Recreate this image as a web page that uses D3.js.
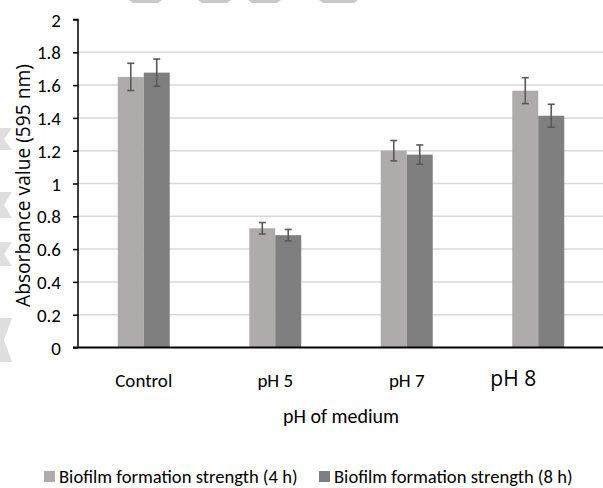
<!DOCTYPE html>
<html>
<head>
<meta charset="utf-8">
<script src="https://cdn.jsdelivr.net/npm/d3@7"></script>
<style>
  html, body { margin: 0; padding: 0; background: #fff; }
  svg { display: block; }
</style>
</head>
<body>
<svg id="chart" width="603" height="488"></svg>
<script>
// ---- data ----
const categories = ["Control", "pH 5", "pH 7", "pH 8"];
const seriesNames = ["Biofilm formation strength (4 h)", "Biofilm formation strength (8 h)"];
const strength4h = [1.65, 0.727, 1.20, 1.566];
const strength8h = [1.676, 0.685, 1.176, 1.413];
const err4h = [0.083, 0.035, 0.062, 0.079];
const err8h = [0.083, 0.035, 0.059, 0.070];
const yTickValues = [0, 0.2, 0.4, 0.6, 0.8, 1, 1.2, 1.4, 1.6, 1.8, 2];
const yTitle = "Absorbance value (595 nm)";
const xTitle = "pH of medium";

// ---- layout ----
const svg = d3.select("#chart");
const plotLeft = 78, plotRight = 604, plotTop = 19.5, plotBottom = 347.5;
const colors = ["#afabab", "#7f7f7f"];
const calibri = "Carlito, Lato, 'Open Sans', sans-serif";

// faint background shapes (watermark remnants)
const wm = svg.append("g").attr("fill", "#c9c9c9");
[[133,158],[202,227],[252,277],[323,354]].forEach(([a,b]) => {
  wm.append("path").attr("d", `M${a-4},0 L${b+4},0 L${b},3 L${a},3 Z`);
});
const wmL = svg.append("g").attr("fill", "#dedede");
[[128,150],[192,218],[242,266],[318,362]].forEach(([a,b]) => {
  const m = (a + b) / 2;
  wmL.append("path").attr("d", `M0,${a} L12,${a} L4,${m} L12,${b} L0,${b} Z`);
});

const x = d3.scaleBand().domain(categories).range([plotLeft, plotRight])
  .paddingInner(0.605).paddingOuter(0.3025);
const x1 = d3.scaleBand().domain([0, 1]).range([0, x.bandwidth()]);
const y = d3.scaleLinear().domain([0, 2]).range([plotBottom, plotTop]);

// gridlines
svg.append("g")
  .selectAll("line").data(yTickValues.filter(v => v > 0 && v < 2))
  .join("line")
  .attr("x1", plotLeft).attr("x2", 603)
  .attr("y1", d => y(d)).attr("y2", d => y(d))
  .attr("stroke", "#d9d9d9").attr("stroke-width", 1.5);

// bars
const series = [strength4h, strength8h];
const errs = [err4h, err8h];
series.forEach((vals, si) => {
  svg.append("g").selectAll("rect").data(vals).join("rect")
    .attr("x", (d, i) => x(categories[i]) + x1(si))
    .attr("width", x1.bandwidth())
    .attr("y", d => y(d))
    .attr("height", d => y(0) - y(d))
    .attr("fill", colors[si]);
});

// error bars
series.forEach((vals, si) => {
  const g = svg.append("g").attr("stroke", "#595959").attr("stroke-width", 1.6);
  vals.forEach((v, i) => {
    const cx = x(categories[i]) + x1(si) + x1.bandwidth() / 2;
    const e = errs[si][i];
    g.append("line").attr("x1", cx).attr("x2", cx).attr("y1", y(v + e)).attr("y2", y(v - e));
    g.append("line").attr("x1", cx - 3.5).attr("x2", cx + 3.5).attr("y1", y(v + e)).attr("y2", y(v + e));
    g.append("line").attr("x1", cx - 3.5).attr("x2", cx + 3.5).attr("y1", y(v - e)).attr("y2", y(v - e));
  });
});

// y axis
const yAxis = d3.axisLeft(y).tickValues(yTickValues).tickSize(5).tickPadding(12)
  .tickFormat(d => String(d));
const gy = svg.append("g").attr("transform", `translate(${plotLeft},0)`).call(yAxis);
gy.select(".domain").attr("stroke", "#000").attr("stroke-width", 1.5)
  .attr("d", `M-5,${plotTop}H0V${plotBottom}`);
gy.selectAll(".tick line").attr("stroke", "#000").attr("stroke-width", 1.5);
gy.selectAll(".tick text").attr("font-family", calibri).attr("font-size", 19)
  .attr("fill", "#000").attr("dy", "0.35em");

// x axis
const xAxis = d3.axisBottom(x).tickSize(0).tickPadding(0);
const gx = svg.append("g").attr("transform", `translate(0,${plotBottom})`).call(xAxis);
gx.select(".domain").attr("stroke", "#000").attr("stroke-width", 2)
  .attr("d", `M${plotLeft - 5},0H603`);
gx.selectAll(".tick text")
  .attr("font-family", calibri).attr("font-size", 19).attr("fill", "#000")
  .attr("dy", null).attr("y", 39);
gx.selectAll(".tick").filter(d => d === "pH 8").select("text")
  .attr("font-family", "'Open Sans', sans-serif").attr("font-size", 21)
  .attr("x", -25).attr("y", 38);

// axis titles
svg.append("text")
  .attr("transform", `translate(30,${(plotTop + plotBottom) / 2 + 2}) rotate(-90)`)
  .attr("text-anchor", "middle")
  .attr("font-family", "'Open Sans', sans-serif").attr("font-size", 19.2)
  .attr("fill", "#000").text(yTitle);

svg.append("text")
  .attr("x", (plotLeft + plotRight) / 2).attr("y", 423)
  .attr("text-anchor", "middle")
  .attr("font-family", calibri).attr("font-size", 20).attr("fill", "#000")
  .text(xTitle);

// legend
const legendX = [44, 319];
const lg = svg.append("g");
seriesNames.forEach((name, si) => {
  lg.append("rect").attr("x", legendX[si]).attr("y", 471).attr("width", 11).attr("height", 11)
    .attr("fill", colors[si]);
  lg.append("text").attr("x", legendX[si] + 15).attr("y", 483)
    .attr("font-family", calibri).attr("font-size", 18.6).attr("fill", "#000").text(name);
});
</script>
</body>
</html>
